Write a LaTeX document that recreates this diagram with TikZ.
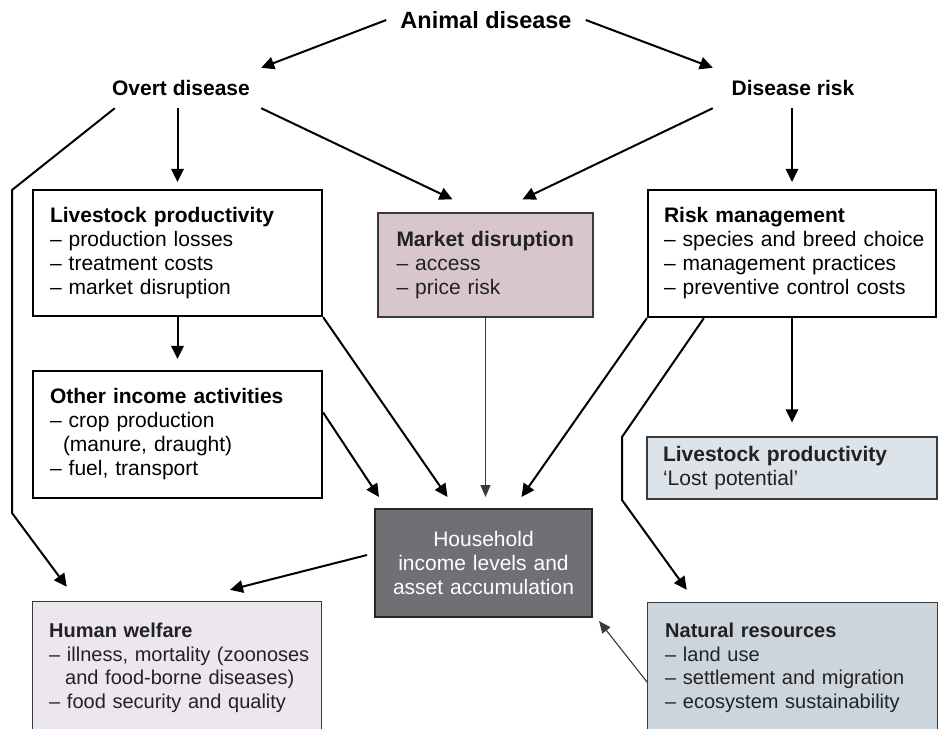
\documentclass[tikz,border=0pt]{standalone}
\usepackage{fontspec}
\setmainfont{Liberation Sans}
\usetikzlibrary{arrows.meta,calc}
\definecolor{mdfill}{HTML}{D7C6CC}
\definecolor{lpfill}{HTML}{DCE3E9}
\definecolor{hhfill}{HTML}{6E7074}
\definecolor{hwfill}{HTML}{ECE6EE}
\definecolor{nrfill}{HTML}{CDD5DC}
\definecolor{cline}{HTML}{3A3A3A}
\definecolor{ctext}{HTML}{222222}
\begin{document}
\begin{tikzpicture}[x=1pt,y=-1pt,
 arr/.style={line width=2pt, -{Triangle[length=13pt,width=12.5pt]}},
 thinarr/.style={line width=1.1pt, draw=cline, -{Triangle[length=12pt,width=10pt]}, fill=cline},
 hd/.style={font=\fontsize{21}{24}\selectfont\bfseries, inner sep=0pt, minimum height=40pt, minimum width=160pt},
 box/.style={draw, line width=2.3pt, rectangle, inner xsep=17pt, inner ysep=0pt, align=left, font=\fontsize{21}{24}\selectfont},
 cbox/.style={box, line width=1.3pt, draw=cline, text=ctext},
 openbox/.style={draw=none, rectangle, inner sep=0pt},
 boxtext/.style={anchor=north west, inner sep=0pt, text width=275pt, align=left, font=\fontsize{20}{23.5}\selectfont, text=ctext},
 edge3/.style={line width=1.3pt, draw=cline},
]
\useasboundingbox[fill=white] (0,0) rectangle (939,729);

% headings
\node[font=\fontsize{23.5}{26}\selectfont\bfseries, inner xsep=14pt, inner ysep=4pt] (ad) at (486,20) {Animal disease};
\node[hd] (od) at (181,88) {Overt disease};
\node[hd] (dr) at (793,88) {Disease risk};

% boxes
\node[box, minimum height=126pt, text width=255pt] (lp) at (177.5,253)
 {\mbox{\textbf{Livestock productivity}}\\\mbox{– production losses}\\\mbox{– treatment costs}\\\mbox{– market disruption}};
\node[box, minimum height=127pt, text width=255pt] (oi) at (177.5,434.5)
 {\mbox{\textbf{Other income activities}}\\\mbox{– crop production}\\\hspace*{13pt}\mbox{(manure, draught)}\\\mbox{– fuel, transport}};
\node[cbox, fill=mdfill, minimum height=104pt, inner xsep=18.5pt, text width=178pt] (md) at (485.5,265)
 {\mbox{\textbf{Market disruption}}\\\mbox{– access}\\\mbox{– price risk}};
\node[box, minimum height=127pt, inner xsep=16pt, text width=256pt] (rm) at (792,253.5)
 {\mbox{\textbf{Risk management}}\\\mbox{– species and breed choice}\\\mbox{– management practices}\\\mbox{– preventive control costs}};
\node[cbox, fill=lpfill, minimum height=62pt, inner xsep=16pt, text width=258pt] (lp2) at (792,468)
 {\mbox{\textbf{Livestock productivity}}\\\mbox{‘Lost potential’}};
\node[cbox, draw=black!85, line width=2pt, fill=hhfill, text=white, align=center, minimum height=108pt, inner xsep=8.5pt, text width=200pt] (hh) at (483.5,563)
 {Household\\income levels and\\asset accumulation};

% open-bottom boxes
\node[openbox, fill=hwfill, minimum width=288pt, minimum height=127pt] (hw) at (177,665.5) {};
\draw[edge3] (hw.south west) -- (hw.north west) -- (hw.north east) -- (hw.south east);
\node[boxtext] (hwt) at (49,623)
 {\mbox{\textbf{Human welfare}}\\\mbox{– illness, mortality (zoonoses}\\\hspace*{16pt}\mbox{and food-borne diseases)}\\\mbox{– food security and quality}};

\node[openbox, fill=nrfill, minimum width=289pt, minimum height=126pt] (nr) at (792.5,666) {};
\draw[edge3] (nr.south west) -- (nr.north west) -- (nr.north east) -- (nr.south east);
\node[boxtext] (nrt) at (665,623)
 {\mbox{\textbf{Natural resources}}\\\mbox{– land use}\\\mbox{– settlement and migration}\\\mbox{– ecosystem sustainability}};

% bend points
\coordinate (b1) at (12,190);
\coordinate (b2) at (12,513);
\coordinate (b3) at (622,437);
\coordinate (b4) at (622,500);

% connectors
\draw[arr] (ad.west) -- (od.north east);
\draw[arr] (ad.east) -- (dr.north west);
\draw[arr, shorten >=7pt] (od.south -| lp.north) -- (lp.north);
\draw[arr] (od.south east) -- ($(md.north)+(-33,-13)$);
\draw[arr] (dr.south west) -- ($(md.north)+(37,-13)$);
\draw[arr, shorten >=7pt] (dr.south -| rm.north) -- (rm.north);
\draw[arr] ($(od.south west)+(14,0)$) -- (b1) -- (b2) -- ($(hw.north west)+(34,-15)$);
\draw[arr, shorten >=11pt] (lp.south) -- (oi.north);
\draw[arr] (lp.south east) -- ($(hh.north)+(-36,-11)$);
\draw[arr] ($(oi.east)+(0,-22)$) -- ($(hh.north west)+(5,-11)$);
\draw[thinarr, shorten >=11pt] (md.south) -- (md.south |- hh.north);
\draw[arr] (rm.south west) -- ($(hh.north)+(38,-11)$);
\draw[arr, shorten >=14pt] (rm.south) -- (lp2.north);
\draw[arr] ($(rm.south west)+(57,0)$) -- (b3) -- (b4) -- ($(nr.north west)+(39,-13)$);
\draw[arr] ($(hh.west)+(-7,-8)$) -- ($(hw.north)+(53,-12)$);
\draw[thinarr] ($(nr.west)+(0,17)$) -- ($(hh.south east)+(6,3)$);
\end{tikzpicture}
\end{document}
